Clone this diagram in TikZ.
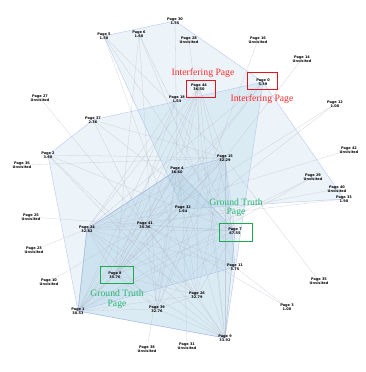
\documentclass[tikz,border=0pt]{standalone}
\usepackage{fontspec}
\setmainfont{DejaVu Sans}
\newfontfamily\serifx{Liberation Serif}
\begin{document}
\begin{tikzpicture}[x=1pt,y=-1pt,
  hull/.style={fill={rgb,255:red,140;green,190;blue,220},fill opacity=0.17,draw={rgb,255:red,160;green,178;blue,232},draw opacity=0.65,line width=0.45pt,line join=round},
  gedge/.style={draw={rgb,255:red,180;green,186;blue,200},line width=0.3pt,opacity=0.6},
  plabel/.style={font=\fontsize{3.5}{4.2}\selectfont\bfseries,align=center,inner sep=0pt,text=black},
  redtxt/.style={font=\serifx\fontsize{9.7}{11}\selectfont,text={rgb,255:red,255;green,40;blue,40},inner sep=0pt},
  greentxt/.style={font=\serifx\fontsize{9.7}{11}\selectfont,text={rgb,255:red,40;green,180;blue,110},inner sep=0pt,align=center},
  redbox/.style={draw={rgb,255:red,230;green,20;blue,30},line width=0.8pt},
  greenbox/.style={draw={rgb,255:red,30;green,170;blue,80},line width=0.8pt}]
\useasboundingbox (0,0) rectangle (366,372);
% node positions
\coordinate (p30) at (175,21);
\coordinate (p5) at (104,36);
\coordinate (p6) at (139,34);
\coordinate (p28) at (189,40);
\coordinate (p16) at (258,40);
\coordinate (p14) at (302,59);
\coordinate (p0) at (263,82);
\coordinate (p44) at (199,87);
\coordinate (p27) at (40,98);
\coordinate (p18) at (177,99);
\coordinate (p12) at (335,104);
\coordinate (p37) at (93,120);
\coordinate (p2) at (48,155);
\coordinate (p36) at (22,165);
\coordinate (p42) at (349,150);
\coordinate (p15) at (225,158);
\coordinate (p4) at (177,170);
\coordinate (p29) at (313,177);
\coordinate (p40) at (337,189);
\coordinate (p33) at (344,199);
\coordinate (p32) at (183,209);
\coordinate (p25) at (31,217);
\coordinate (p41) at (145,225);
\coordinate (p24) at (87,229);
\coordinate (p7) at (235,231);
\coordinate (p23) at (34,250);
\coordinate (p11) at (235,267);
\coordinate (p8) at (115,275);
\coordinate (p35) at (319,281);
\coordinate (p10) at (49,282);
\coordinate (p26) at (197,295);
\coordinate (p3) at (287,307);
\coordinate (p39) at (157,309);
\coordinate (p1) at (78,311);
\coordinate (p9) at (225,338);
\coordinate (p31) at (187,346);
\coordinate (p38) at (147,349);
% hulls
\draw[hull] (p5) -- (p30) -- (p0) -- (p33) -- (p32) -- cycle;
\draw[hull] (p37) -- (p0) -- (p9) -- (p1) -- (p2) -- cycle;
\draw[hull] (p24) -- (p4) -- (p15) -- (p11) -- (p1) -- cycle;
\draw[hull] (p4) -- (p7) -- (p9) -- (p1) -- (p24) -- cycle;
% graph edges among visited pages
\foreach \a/\b in {44/4,44/15,44/7,44/8,44/41,44/24,44/1,44/39,44/26,44/9,
  4/15,4/7,4/8,4/41,4/24,4/1,4/39,4/26,4/9,
  15/7,15/8,15/41,15/24,15/1,15/39,15/26,15/9,
  7/8,7/41,7/24,7/1,7/39,7/26,7/9,
  8/41,8/24,8/1,8/39,8/26,8/9,
  41/24,41/1,41/39,41/26,41/9,
  24/1,24/39,24/26,24/9,
  1/39,1/26,39/26,39/9,26/9,
  5/15,5/7,5/26,6/8,6/39,6/7,6/11,30/4,28/9,
  37/15,37/7,37/41,2/15,2/7,2/26,2/9,18/8,18/24,18/1,
  0/41,0/24,0/8,32/24,32/1,32/8,11/24,11/41,
  12/41,12/8,42/24,29/1,29/8,40/41,33/24,36/15,25/7,
  3/11,3/41,14/15,16/39,27/41,23/24,10/41,38/4,31/32,35/15}
  \draw[gedge] (p\a) -- (p\b);
% labels
\foreach \n/\v in {30/1.55,5/1.58,6/1.60,28/Unvisited,16/Unvisited,14/Unvisited,
  0/5.39,44/36.50,27/Unvisited,18/1.53,12/1.00,37/2.36,2/3.60,36/Unvisited,
  42/Unvisited,15/32.29,4/36.60,29/Unvisited,40/Unvisited,33/1.90,32/1.64,
  25/Unvisited,41/35.36,24/32.82,7/67.55,23/Unvisited,11/3.75,8/35.76,
  35/Unvisited,10/Unvisited,26/32.79,3/1.00,39/32.76,1/30.53,9/33.92,
  31/Unvisited,38/Unvisited}
  \node[plabel] (l\n) at (p\n) {Page \n\\\v};
% highlight boxes
\node[redbox,minimum width=29pt,minimum height=17pt,inner sep=0pt] (b44) at (200.5,88.5) {};
\node[redbox,minimum width=30pt,minimum height=17pt,inner sep=0pt] (b0) at (262,80.5) {};
\node[greenbox,minimum width=33pt,minimum height=18pt,inner sep=0pt] (b7) at (235.5,232) {};
\node[greenbox,minimum width=33pt,minimum height=17pt,inner sep=0pt] (b8) at (116.5,274.5) {};
% annotations
\node[redtxt] (i1) at (203,73) {Interfering Page};
\node[redtxt] (i2) at (262,99) {Interfering Page};
\node[greentxt] (g1) at (236,207.5) {Ground Truth\\[-1.5pt]Page};
\node[greentxt] (g2) at (117,299) {Ground Truth\\[-1.5pt]Page};
\end{tikzpicture}
\end{document}
